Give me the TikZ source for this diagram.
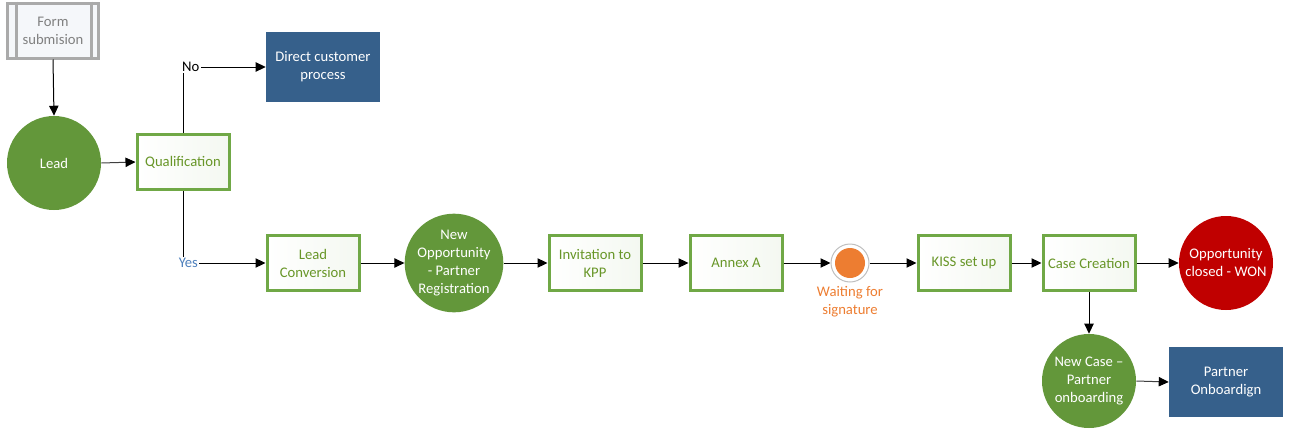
\documentclass[tikz,border=0pt]{standalone}
\usepackage{fontspec}
\setmainfont{Carlito}
\usepackage{xcolor}
\usetikzlibrary{arrows.meta, positioning, shapes.geometric}

\definecolor{circgreen}{RGB}{99,151,58}
\definecolor{boxgreen}{RGB}{112,168,70}
\definecolor{boxfill}{RGB}{244,248,241}
\definecolor{textgreen}{RGB}{104,150,40}
\definecolor{boxblue}{RGB}{54,96,139}
\definecolor{wonred}{RGB}{192,0,0}
\definecolor{waitorange}{RGB}{237,125,49}
\definecolor{yesblue}{RGB}{79,129,189}
\definecolor{formgray}{RGB}{170,170,170}
\definecolor{formtext}{RGB}{128,128,128}
\definecolor{formfill}{RGB}{245,247,250}

\begin{document}
\begin{tikzpicture}[x=0.75pt, y=-0.75pt,
  every node/.style={font=\fontsize{11}{13.5}\selectfont, align=center},
  formbox/.style={rectangle, draw=formgray, line width=2.25pt, fill=formfill, text=formtext, minimum width=68pt, minimum height=41.25pt},
  greenbox/.style={rectangle, draw=boxgreen, line width=2.25pt, left color=white, right color=boxfill, text=textgreen, minimum width=69pt, minimum height=41.25pt},
  event/.style={circle, fill=circgreen, text=white, minimum size=70.5pt, inner sep=0pt},
  bluebox/.style={rectangle, fill=boxblue, text=white, minimum width=85.5pt, minimum height=52.5pt},
  wait/.style={circle, draw=black!25, line width=0.75pt, fill=white, minimum size=28.5pt, inner sep=0pt,
    path picture={\fill[waitorange] (path picture bounding box.center) circle (15);}},
  flow/.style={-{Triangle[length=7.5pt, width=7pt, color=black]}, line width=0.75pt},
  lbl/.style={fill=white, inner sep=1pt, anchor=west}
]
\useasboundingbox (0,0) rectangle (1290,436);

% Start
\node[formbox] (form) at (53,30.5) {Form\\submision};
\draw[formgray, line width=2.25pt] ([xshift=7.5pt]form.north west) -- ([xshift=7.5pt]form.south west);
\draw[formgray, line width=2.25pt] ([xshift=-6.5pt]form.north east) -- ([xshift=-6.5pt]form.south east);
\node[event] (lead) at (54,163) {Lead};
\node[greenbox] (qual) at (183,162) {Qualification};
\node[bluebox] (direct) at (323,67) {Direct customer\\process};

% Main flow
\node[greenbox] (conv) at (313,263) {Lead\\Conversion};
\node[event] (opp) at (454,263) {New\\Opportunity\\- Partner\\Registration};
\node[greenbox] (kpp) at (595,263) {Invitation to\\KPP};
\node[greenbox] (annex) at (736,263) {Annex A};
\node[wait] (wait) at (850,263) {};
\node[text=waitorange] (waitlbl) at (850,302) {Waiting for\\signature};
\node[greenbox] (kiss) at (964,263) {KISS set up};
\node[greenbox] (case) at (1089,263) {Case Creation};
\node[event, fill=wonred] (won) at (1226,263) {Opportunity\\closed - WON};

% Onboarding
\node[event] (newcase) at (1089,381) {New Case --\\Partner\\onboarding};
\node[bluebox] (partner) at (1226,382) {Partner\\Onboardign};

% Connectors
\draw[flow] (form.south) -- (lead.north);
\draw[flow, draw=black!75] (lead.east) -- (qual.west);
\draw[flow] (qual.north) |- node[lbl, pos=0.5, xshift=-2pt] {No} (direct.west);
\draw[flow] (qual.south) |- node[lbl, pos=0.5, xshift=-4.5pt, text=yesblue] {Yes} (conv.west);
\draw[flow] (conv.east) -- (opp.west);
\draw[flow] (opp.east) -- (kpp.west);
\draw[flow] (kpp.east) -- (annex.west);
\draw[flow] (annex.east) -- (wait.west);
\draw[flow] (wait.east) -- (kiss.west);
\draw[flow] (kiss.east) -- (case.west);
\draw[flow] (case.east) -- (won.west);
\draw[flow] (case.south) -- (newcase.north);
\draw[flow, draw=black!75] (newcase.east) -- (partner.west);
\end{tikzpicture}
\end{document}
